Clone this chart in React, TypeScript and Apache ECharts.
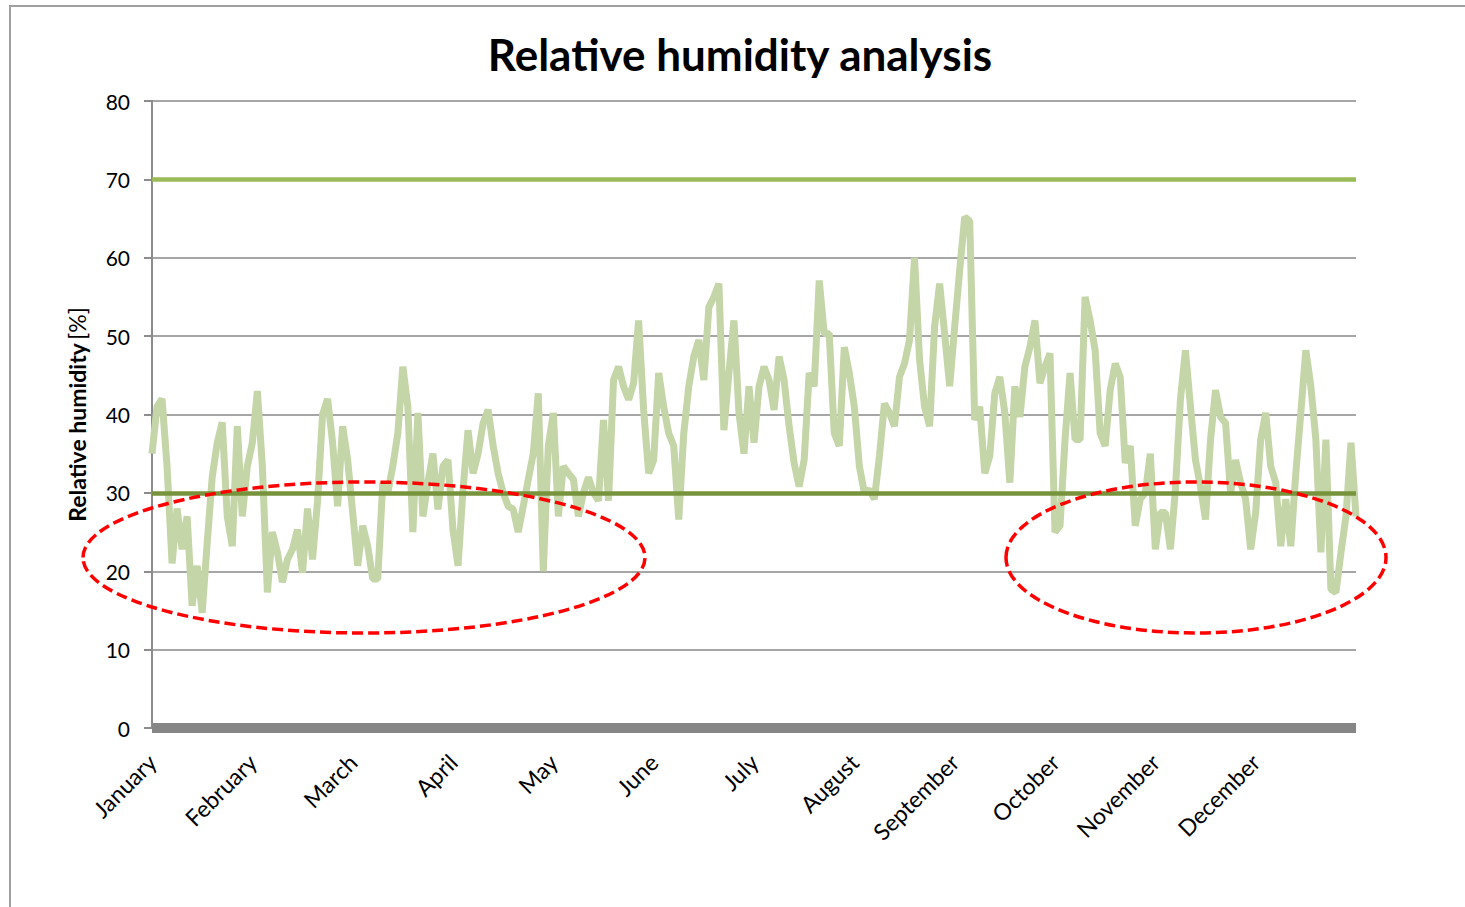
import React, { useEffect, useRef } from "react";
import * as echarts from "echarts";

const monthNames = ["January","February","March","April","May","June","July","August","September","October","November","December"];
const yTicks = [0, 10, 20, 30, 40, 50, 60, 70, 80];
const thresholds = [70, 30];

const janRH = [35,41,42,33.4,21,28,22.8,27,15.6,20.7,14.7,23.6,32,36.4,39,27,23.2,38.5,27,33.4];
const febRH = [36.4,43,33.4,17.3,25,22.4,18.6,21.5,22.8,25.3,19.8,28,21.5,29,40,42,36.4,28.3,38.5,34.2];
const marRH = [27.5,20.7,25.8,23.2,19,19,31.3,30,33.4,37.6,46.1,41,25,40.2,27,31.3,35,27.9,33.4,34.2];
const aprRH = [25.3,20.7,30.4,38,32.5,35,38.9,40.6,36,32.5,30,28.3,27.9,25,28.3,31.7,35,42.7,20,36];
const mayRH = [40.2,27,33.4,32.5,31.7,27,30,32,30,29,39.3,29,44.4,46.1,43.6,41.9,44,52,40.6,32.5];
const junRH = [34.2,45.3,41,37.6,36,26.6,37.6,43.6,47.4,49.5,44.4,53.7,55,56.7,38,45.3,52,40.2,35,43.6];
const julRH = [36.4,43.6,46.1,44.4,40.6,47.4,44.4,38.5,33.8,30.8,34.2,45.3,43.6,57.1,50.3,50.3,37.6,36,48.6,45.3];
const augRH = [41,33.4,30,30.4,29.2,34.7,41.4,40.2,38.5,44.8,46.5,49.5,60,47,41,38.5,51.2,56.7,50.3,43.6];
const sepRH = [51.2,58.4,65.2,64.7,39.3,41,32.5,34.7,42.7,44.8,40.2,31.3,43.6,39.7,46.1,48.6,52,44,46.1,47.8];
const octRH = [25,25.8,36.8,45.3,36.8,36.8,55,52,48.2,37.6,36,43.1,46.5,44.8,33.8,36,25.8,29.2,30,35];
const novRH = [22.8,27.5,27.5,22.8,30.4,41.9,48.2,41,34.2,30.8,26.6,36.8,43.1,39.7,38.9,30,34.2,31.3,29.2,22.8];
const decRH = [27.5,36.8,40.2,33.4,31.3,23.2,29.2,23.2,32.5,40.2,48.2,43.6,36.8,22.4,36.8,17.7,17.3,22.4,27,36.4,27];

const humidity = [...janRH, ...febRH, ...marRH, ...aprRH, ...mayRH, ...junRH, ...julRH, ...augRH, ...sepRH, ...octRH, ...novRH, ...decRH];
const pointsPerMonth = janRH.length;

export default function App() {
  const ref = useRef<HTMLDivElement>(null);
  useEffect(() => {
    document.body.style.margin = "0";
    document.body.style.overflow = "hidden";
    const chart = echarts.init(ref.current!, null, { renderer: "svg" });
    const cats = humidity.map((_, i) => "p" + i);
    const font = "Lato, 'Open Sans', sans-serif";
    chart.setOption({
      animation: false,
      backgroundColor: "#ffffff",
      title: {
        text: "Relative humidity analysis",
        left: 740,
        top: 32,
        textAlign: "center",
        padding: 0,
        textStyle: { fontFamily: font, fontSize: 44, fontWeight: "bold", color: "#000" },
      },
      grid: { left: 152, right: 109, top: 101, bottom: 179, containLabel: false },
      xAxis: {
        type: "category",
        data: cats,
        boundaryGap: false,
        offset: 4,
        axisLine: { show: true, lineStyle: { color: "#868686", width: 10, cap: "butt" } },
        axisTick: { show: false },
        splitLine: { show: false },
        axisLabel: {
          interval: (index: number) => index % pointsPerMonth === 0 && index / pointsPerMonth < monthNames.length,
          formatter: (_v: string, index: number) => monthNames[Math.round(index / pointsPerMonth)] || "",
          rotate: 45,
          margin: 26,
          fontFamily: font,
          fontSize: 23,
          color: "#000",
        },
      },
      yAxis: {
        type: "value",
        min: yTicks[0],
        max: yTicks[yTicks.length - 1],
        interval: 10,
        name: "{b|Relative humidity} {n|[%]}",
        nameLocation: "middle",
        nameGap: 64,
        nameRotate: 90,
        nameTextStyle: {
          rich: {
            b: { fontFamily: font, fontSize: 23, fontWeight: "bold", color: "#000" },
            n: { fontFamily: font, fontSize: 23, color: "#000" },
          },
        },
        axisLine: { show: true, lineStyle: { color: "#8c8c8c", width: 2 } },
        axisTick: { show: true, length: 8, lineStyle: { color: "#8c8c8c", width: 2 } },
        splitLine: { show: true, lineStyle: { color: "#a6a6a6", width: 2 } },
        axisLabel: { margin: 22, fontFamily: font, fontSize: 21, color: "#000" },
      },
      series: [
        {
          type: "line",
          data: humidity,
          symbol: "none",
          lineStyle: { color: "#c4d5a8", width: 7 },
          z: 2,
        },
        {
          type: "line",
          data: [],
          symbol: "none",
          z: 3,
          markLine: {
            silent: true,
            symbol: "none",
            label: { show: false },
            data: thresholds.map((v, k) => ({
              yAxis: v,
              lineStyle: { type: "solid", width: 4.5, color: k === 0 ? "#9bbb59" : "#77933c" },
            })),
          },
        },
      ],
      graphic: [
        {
          type: "rect",
          shape: { x: 10, y: 6, width: 1600, height: 1000 },
          style: { fill: "none", stroke: "#a0a0a0", lineWidth: 2 },
          silent: true,
          z: 0,
        },
        {
          type: "ellipse",
          shape: { cx: 364, cy: 557.5, rx: 281, ry: 75.5 },
          style: { fill: "none", stroke: "#ff0000", lineWidth: 3.5, lineDash: [11, 5] },
          silent: true,
          z: 100,
        },
        {
          type: "ellipse",
          shape: { cx: 1196, cy: 557.5, rx: 190, ry: 75.5 },
          style: { fill: "none", stroke: "#ff0000", lineWidth: 3.5, lineDash: [11, 5] },
          silent: true,
          z: 100,
        },
      ],
    });
    return () => chart.dispose();
  }, []);
  return <div ref={ref} style={{ width: 1465, height: 907 }} />;
}
